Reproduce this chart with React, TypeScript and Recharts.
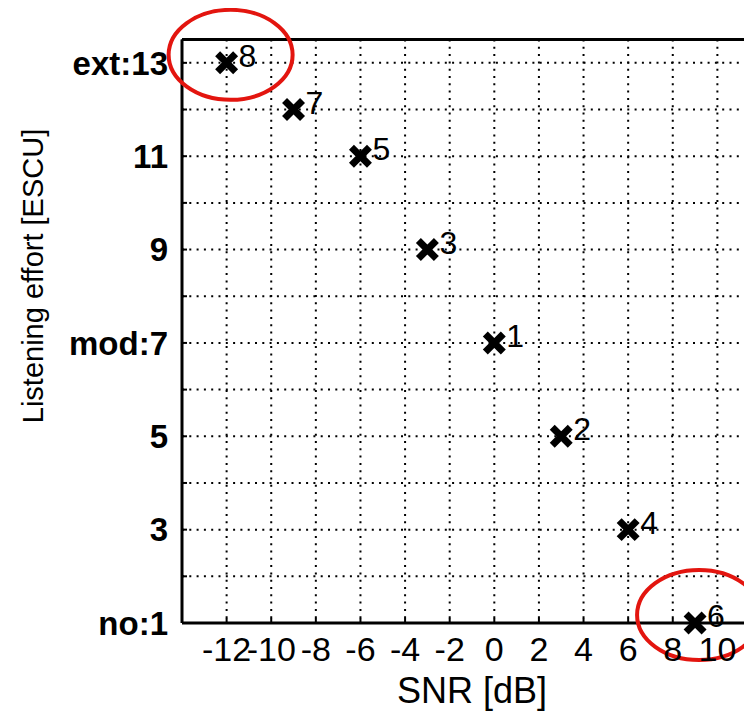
import { ScatterChart, Scatter, XAxis, YAxis, CartesianGrid, ReferenceDot, Label } from 'recharts';

// listening effort ratings vs SNR, one point per condition
const pointIds = [1, 2, 3, 4, 5, 6, 7, 8];
const snrValues = [0, 3, -3, 6, -6, 9, -9, -12];
const effortValues = [7, 5, 9, 3, 11, 1, 12, 13];

const xTicks = [-14, -12, -10, -8, -6, -4, -2, 0, 2, 4, 6, 8, 10, 12];
const xTickLabels = ['', '-12', '-10', '-8', '-6', '-4', '-2', '0', '2', '4', '6', '8', '10', ''];
const yTicks = [1, 2, 3, 4, 5, 6, 7, 8, 9, 10, 11, 12, 13];
const yTickLabels = ['no:1', '', '3', '', '5', '', 'mod:7', '', '9', '', '11', '', 'ext:13'];

// points circled in red
const circledSnr = [-12, 9];
const circledEffort = [13, 1];

const data = pointIds.map((id, i) => ({ id, snr: snrValues[i], effort: effortValues[i] }));

const FONT = 'Arial, "Liberation Sans", sans-serif';

function CrossMarker(props: any) {
  const { cx, cy, payload } = props;
  const h = 9;
  return (
    <g>
      <path
        d={`M${cx - h},${cy - h}L${cx + h},${cy + h}M${cx - h},${cy + h}L${cx + h},${cy - h}`}
        stroke="#000"
        strokeWidth={7}
        fill="none"
      />
      <text x={cx + 12} y={cy + 4} fontSize={32} fontFamily={FONT} fill="#000">
        {payload.id}
      </text>
    </g>
  );
}

function RedEllipse(props: any) {
  const { cx, cy } = props;
  return <ellipse cx={cx + 4} cy={cy - 8} rx={62} ry={45} fill="none" stroke="#e3150f" strokeWidth={4} />;
}

export default function App() {
  return (
    <div style={{ width: 744, height: 703, overflow: 'hidden' }}>
      <style>{'html,body{overflow:hidden}'}</style>
      <ScatterChart width={764} height={703} margin={{ top: 30.5, right: 10, bottom: 0, left: 0 }}>
        <CartesianGrid stroke="#000" strokeWidth={2} strokeDasharray="2 5.3" xAxisId="bottom" />
        <XAxis
          xAxisId="bottom"
          type="number"
          dataKey="snr"
          domain={[-14, 12]}
          ticks={xTicks}
          tickFormatter={(v: number) => xTickLabels[xTicks.indexOf(v)]}
          height={88}
          axisLine={{ stroke: '#000', strokeWidth: 3 }}
          tickLine={{ stroke: '#000', strokeWidth: 2 }}
          tickSize={-5}
          tickMargin={19}
          tick={{ fill: '#000', fontSize: 34, fontFamily: FONT }}
          interval={0}
        >
          <Label
            content={(p: any) => (
              <text
                x={p.viewBox.x + p.viewBox.width / 2}
                y={p.viewBox.y + 80}
                textAnchor="middle"
                fontSize={36}
                fontFamily={FONT}
                fill="#000"
              >
                SNR [dB]
              </text>
            )}
          />
        </XAxis>
        <XAxis
          xAxisId="top"
          orientation="top"
          type="number"
          dataKey="snr"
          domain={[-14, 12]}
          ticks={xTicks}
          tickFormatter={() => ''}
          height={1}
          axisLine={{ stroke: '#000', strokeWidth: 3 }}
          tickLine={{ stroke: '#000', strokeWidth: 2 }}
          tickSize={-5}
          interval={0}
        />
        <YAxis
          type="number"
          dataKey="effort"
          domain={[1, 13.5]}
          ticks={yTicks}
          tickFormatter={(v: number) => yTickLabels[yTicks.indexOf(v)]}
          width={174}
          axisLine={{ stroke: '#000', strokeWidth: 3 }}
          tickLine={{ stroke: '#000', strokeWidth: 2 }}
          tickSize={-5}
          tickMargin={19}
          tick={{ fill: '#000', fontSize: 33, fontWeight: 'bold', fontFamily: FONT }}
          interval={0}
        >
          <Label
            content={() => (
              <text
                x={25}
                y={268}
                transform="rotate(-90 25 268)"
                textAnchor="middle"
                dominantBaseline="central"
                fontSize={29}
                fontFamily={FONT}
                fill="#000"
              >
                Listening effort [ESCU]
              </text>
            )}
          />
        </YAxis>
        <Scatter xAxisId="bottom" data={data} shape={CrossMarker} isAnimationActive={false} />
        {circledSnr.map((x, i) => (
          <ReferenceDot key={i} xAxisId="bottom" x={x} y={circledEffort[i]} shape={RedEllipse} />
        ))}
      </ScatterChart>
    </div>
  );
}
